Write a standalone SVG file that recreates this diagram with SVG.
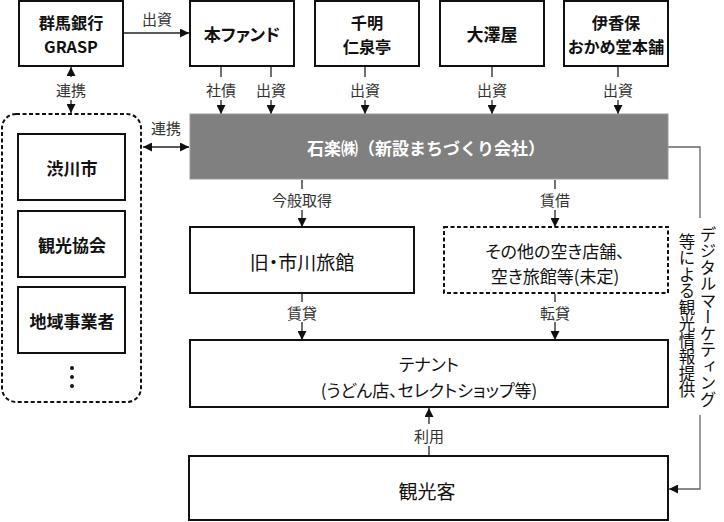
<svg xmlns="http://www.w3.org/2000/svg" width="724" height="522" viewBox="0 0 724 522">
<style>
text{font-family:"Noto Sans CJK JP","Noto Sans",sans-serif;font-feature-settings:"palt";fill:#111;dominant-baseline:central;text-anchor:middle}
.b{font-weight:bold;font-size:17px}
.b2{font-weight:bold;font-size:16.2px}
.n{font-size:17px}
.big{font-size:19px}
.lb{font-size:15px;fill:#333}
.box{fill:#fff;stroke:#111;stroke-width:2}
.dbox{fill:none;stroke:#111;stroke-width:2;stroke-dasharray:4 2.5}
.ln{fill:none;stroke:#222;stroke-width:1.3}
.gl{fill:none;stroke:#666;stroke-width:1.3}
.vt{font-size:16.5px;writing-mode:vertical-rl;text-orientation:upright;text-anchor:start;dominant-baseline:central}
</style>
<defs>
<marker id="ah" viewBox="0 0 10 10" refX="10" refY="5" markerWidth="10" markerHeight="9" markerUnits="userSpaceOnUse" orient="auto-start-reverse">
<path d="M0,0 L10,5 L0,10 z" fill="#111"/>
</marker>
</defs>
<rect width="724" height="522" fill="#fff"/>

<g id="connectors">
<line class="ln" x1="124" y1="33" x2="189" y2="33" marker-end="url(#ah)"/>
<text class="lb" x="157" y="18">出資</text>
<line class="ln" x1="71" y1="77" x2="71" y2="67" marker-end="url(#ah)"/>
<line class="ln" x1="71" y1="100" x2="71" y2="113" marker-end="url(#ah)"/>
<text class="lb" x="71" y="89">連携</text>
<line class="ln" x1="143" y1="147" x2="189" y2="147" marker-start="url(#ah)" marker-end="url(#ah)"/>
<text class="lb" x="166" y="127">連携</text>
<line class="ln" x1="221" y1="67" x2="221" y2="77"/>
<line class="ln" x1="221" y1="100" x2="221" y2="114" marker-end="url(#ah)"/>
<text class="lb" x="221" y="89">社債</text>
<line class="ln" x1="271" y1="67" x2="271" y2="77"/>
<line class="ln" x1="271" y1="100" x2="271" y2="114" marker-end="url(#ah)"/>
<text class="lb" x="271" y="89">出資</text>
<line class="ln" x1="365" y1="67" x2="365" y2="77"/>
<line class="ln" x1="365" y1="100" x2="365" y2="114" marker-end="url(#ah)"/>
<text class="lb" x="365" y="89">出資</text>
<line class="ln" x1="492" y1="67" x2="492" y2="77"/>
<line class="ln" x1="492" y1="100" x2="492" y2="114" marker-end="url(#ah)"/>
<text class="lb" x="492" y="89">出資</text>
<line class="ln" x1="618" y1="67" x2="618" y2="77"/>
<line class="ln" x1="618" y1="100" x2="618" y2="114" marker-end="url(#ah)"/>
<text class="lb" x="618" y="89">出資</text>
<line class="ln" x1="302" y1="180" x2="302" y2="189"/>
<line class="ln" x1="302" y1="210" x2="302" y2="227" marker-end="url(#ah)"/>
<text class="lb" x="302" y="199">今般取得</text>
<line class="ln" x1="555" y1="180" x2="555" y2="189"/>
<line class="ln" x1="555" y1="210" x2="555" y2="227" marker-end="url(#ah)"/>
<text class="lb" x="555" y="199">賃借</text>
<line class="ln" x1="302" y1="294" x2="302" y2="302"/>
<line class="ln" x1="302" y1="322" x2="302" y2="340" marker-end="url(#ah)"/>
<text class="lb" x="302" y="312">賃貸</text>
<line class="ln" x1="555" y1="294" x2="555" y2="302"/>
<line class="ln" x1="555" y1="322" x2="555" y2="340" marker-end="url(#ah)"/>
<text class="lb" x="555" y="312">転貸</text>
<line class="ln" x1="429" y1="456" x2="429" y2="446"/>
<line class="ln" x1="429" y1="424" x2="429" y2="408" marker-end="url(#ah)"/>
<text class="lb" x="429" y="435">利用</text>
<polyline class="gl" points="668,147 700,147 700,218"/>
<polyline class="gl" points="700,415 700,489 669,489" marker-end="url(#ah)"/>
<text class="vt" x="708" y="226">デジタルマーケティング</text>
<text class="vt" x="687" y="233">等による観光情報提供</text>
</g>

<g id="grasp"><rect class="box" x="19" y="1" width="104" height="65"/><text class="b2" x="71" y="22">群馬銀行<tspan x="71" dy="23.6">GRASP</tspan></text></g>
<g id="fund"><rect class="box" x="190" y="1" width="104" height="65"/><text class="b" x="242" y="33">本ファンド</text></g>
<g id="chigira"><rect class="box" x="315" y="1" width="104" height="65"/><text class="b2" x="367" y="22">千明<tspan x="367" dy="23.6">仁泉亭</tspan></text></g>
<g id="osawaya"><rect class="box" x="440" y="1" width="104" height="65"/><text class="b" x="492" y="33">大澤屋</text></g>
<g id="okame"><rect class="box" x="564" y="1" width="104" height="65"/><text class="b2" x="616" y="22">伊香保<tspan x="616" dy="23.6">おかめ堂本舗</tspan></text></g>

<g id="ishiraku"><rect x="190" y="114" width="478" height="65" fill="#808080" stroke="#999" stroke-width="1"/><text class="b" x="426" y="147" style="fill:#fff;font-feature-settings:normal">石楽㈱（新設まちづくり会社）</text></g>

<g id="partners">
<rect class="dbox" x="2" y="114" width="139" height="288" rx="14"/>
<g id="shibukawa"><rect class="box" x="18" y="134" width="107" height="66"/><text class="b" x="72" y="167">渋川市</text></g>
<g id="kanko"><rect class="box" x="18" y="211" width="107" height="66"/><text class="b" x="72" y="244">観光協会</text></g>
<g id="jigyosha"><rect class="box" x="18" y="287" width="107" height="66"/><text class="b" x="72" y="320">地域事業者</text></g>
<circle cx="72" cy="368" r="2" fill="#111"/><circle cx="72" cy="377" r="2" fill="#111"/><circle cx="72" cy="386" r="2" fill="#111"/>
</g>

<g id="ichikawa"><rect class="box" x="190" y="227" width="224" height="66"/><text class="big" x="302" y="261">旧・市川旅館</text></g>
<g id="akiya"><rect class="dbox" x="444" y="227" width="224" height="66" style="fill:#fff"/><text class="n" x="555" y="250">その他の空き店舗、<tspan x="555" dy="25">空き旅館等(未定)</tspan></text></g>
<g id="tenant"><rect class="box" x="190" y="340" width="478" height="67"/><text class="n" x="429" y="363">テナント<tspan x="429" dy="26">(うどん店、セレクトショップ等)</tspan></text></g>
<g id="tourist"><rect class="box" x="189" y="456" width="479" height="64"/><text class="big" x="427" y="490">観光客</text></g>
</svg>
